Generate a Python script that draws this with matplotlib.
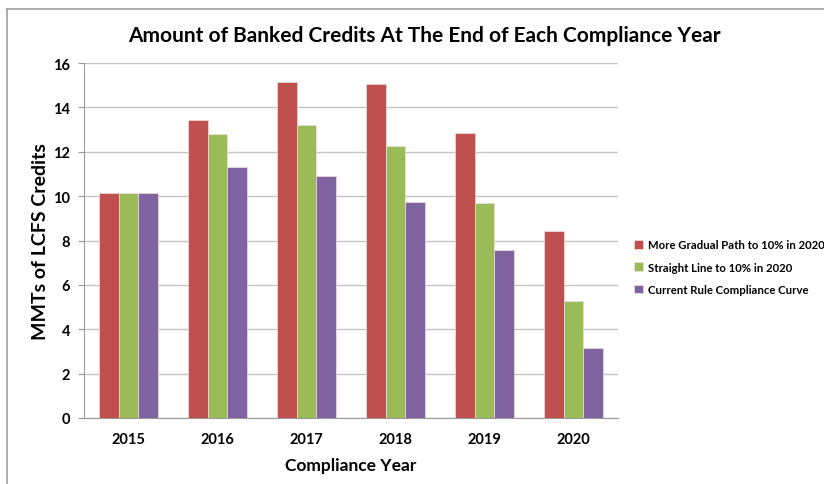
import matplotlib
matplotlib.use("Agg")
import matplotlib.pyplot as plt
import numpy as np
from matplotlib.lines import Line2D

plt.rcParams["font.family"] = ["Lato", "DejaVu Sans"]

# ── Data ──────────────────────────────────────────────────────────────────────
years = ["2015", "2016", "2017", "2018", "2019", "2020"]
gradual = [10.15, 13.45, 15.15, 15.05, 12.85, 8.45]
straight = [10.15, 12.8, 13.22, 12.28, 9.68, 5.28]
current = [10.15, 11.3, 10.9, 9.73, 7.56, 3.14]

series = [
    ("More Gradual Path to 10% in 2020", gradual, "#C0504D"),
    ("Straight Line to 10% in 2020", straight, "#9BBB59"),
    ("Current Rule Compliance Curve", current, "#8064A2"),
]

# ── Figure ────────────────────────────────────────────────────────────────────
fig = plt.figure(figsize=(8.24, 4.85), dpi=100)
ax = fig.add_axes([84 / 824, 1 - 419 / 485, (618 - 84) / 824, (419 - 64) / 485])

x = np.arange(len(years))
w = 1 / 4.5
for i, (label, vals, color) in enumerate(series):
    ax.bar(x + (i - 1) * w, vals, w, color=color, label=label,
           edgecolor="#f2dede", linewidth=0.5, zorder=3)

ax.set_xlim(-0.5, len(years) - 0.5)
ax.set_ylim(0, 16)
ax.set_yticks(range(0, 17, 2))
ax.set_xticks(x)
ax.set_xticklabels(years)
ax.grid(axis="y", color="#c4c4c4", lw=1.0, zorder=0)

for side in ["top", "right"]:
    ax.spines[side].set_visible(False)
for side in ["left", "bottom"]:
    ax.spines[side].set_color("#9a9a9a")
ax.tick_params(axis="y", length=4, color="#9a9a9a", pad=6, labelsize=10.5)
ax.tick_params(axis="x", length=0, pad=10, labelsize=10.5)
for lbl in ax.get_xticklabels() + ax.get_yticklabels():
    lbl.set_fontweight("bold")

ax.set_ylabel("MMTs of LCFS Credits", fontsize=14, fontweight="bold", labelpad=3)
ax.set_xlabel("Compliance Year", fontsize=12.5, fontweight="bold", labelpad=8)
fig.text(424 / 824, 1 - 36 / 485, "Amount of Banked Credits At The End of Each Compliance Year",
         ha="center", va="center", fontsize=15, fontweight="bold")

ax.legend(loc="center left", bbox_to_anchor=(1.01, 0.425), frameon=False,
          prop={"weight": "bold", "size": 8.2}, handlelength=0.8, handleheight=0.8,
          handletextpad=0.5, labelspacing=1.0)

# chart-area border (cropped Excel frame)
fig.add_artist(Line2D([7 / 824, 7 / 824], [0, 1 - 10 / 485], color="#a0a0a0", lw=1.2))
fig.add_artist(Line2D([7 / 824, 1], [1 - 10 / 485, 1 - 10 / 485], color="#a0a0a0", lw=1.2))

fig.savefig("out.png", dpi=100)
